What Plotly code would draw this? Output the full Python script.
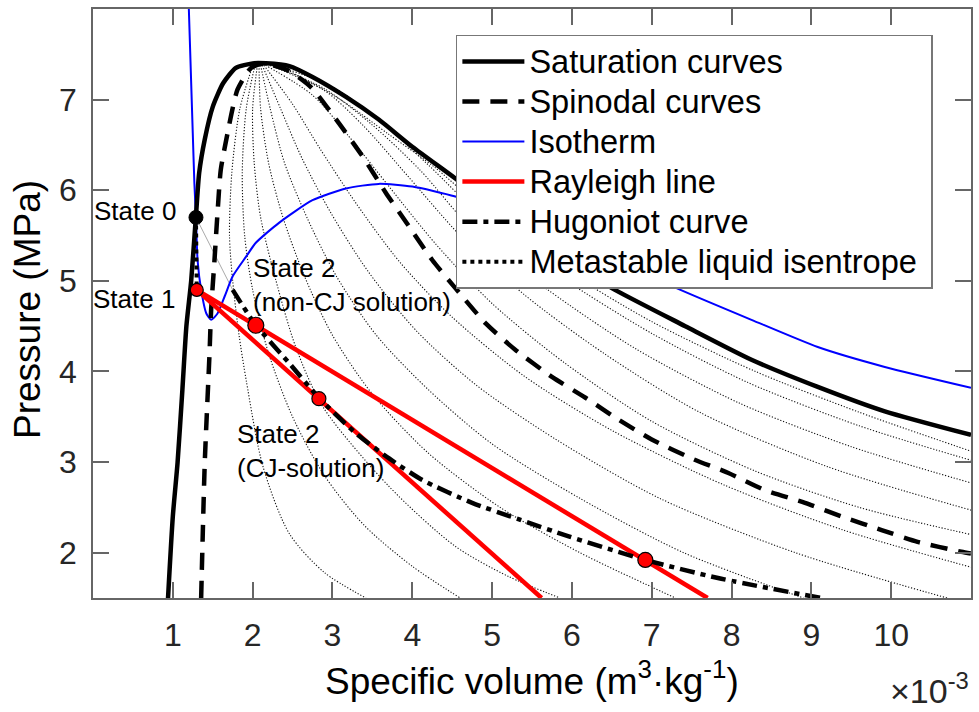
import plotly.graph_objects as go

# ---------------- data (specific volume in 1e-3 m^3/kg, pressure in MPa) ----------------
sat_v = [0.94, 1.00, 1.06, 1.12, 1.17, 1.23, 1.29, 1.33, 1.40, 1.50, 1.63, 1.79, 2.00, 2.17,
         2.46, 2.75, 3.17, 3.58, 4.00, 4.54, 5.00, 5.50, 6.00, 6.50, 7.42, 8.25, 9.08, 9.92, 11.0]
sat_p = [1.50, 2.40, 3.00, 3.80, 4.50, 5.00, 5.72, 6.19, 6.56, 6.92, 7.18, 7.35, 7.40, 7.40,
         7.37, 7.25, 7.03, 6.78, 6.48, 6.13, 5.82, 5.50, 5.20, 4.92, 4.50, 4.13, 3.83, 3.56, 3.30]

spin_v = [1.355, 1.40, 1.46, 1.48, 1.52, 1.56, 1.60, 1.67, 1.81, 1.98, 2.15, 2.45, 2.74, 3.08,
          3.38, 3.67, 3.96, 4.25, 4.54, 4.92, 5.29, 5.75, 6.17, 6.58, 7.00, 7.50, 7.96, 8.42,
          8.92, 9.38, 9.88, 10.33, 10.88, 11.0]
spin_p = [1.50, 2.99, 4.20, 4.68, 5.20, 5.75, 6.22, 6.56, 7.11, 7.35, 7.40, 7.32, 7.13, 6.74,
          6.37, 5.97, 5.60, 5.23, 4.92, 4.53, 4.24, 3.94, 3.71, 3.47, 3.25, 3.04, 2.88, 2.69,
          2.55, 2.40, 2.25, 2.12, 2.01, 1.99]

iso_v = [1.19, 1.25, 1.27, 1.29, 1.31, 1.355, 1.42, 1.48, 1.56, 1.65, 1.75, 1.92, 2.04, 2.33,
         2.75, 3.17, 3.58, 4.00, 4.54, 5.50, 6.50, 7.31, 8.25, 9.08, 9.92, 11.0]
iso_p = [8.30, 6.63, 6.08, 5.70, 5.23, 4.90, 4.64, 4.57, 4.64, 4.83, 5.05, 5.27, 5.42, 5.64,
         5.89, 6.02, 6.07, 6.04, 5.93, 5.62, 5.25, 4.92, 4.57, 4.27, 4.05, 3.82]

hug_v = [1.75, 1.96, 2.04, 2.46, 2.83, 3.29, 3.71, 4.13, 4.75, 5.33, 5.96, 6.92, 7.83, 9.12]
hug_p = [4.90, 4.61, 4.51, 4.09, 3.71, 3.32, 3.04, 2.80, 2.55, 2.37, 2.18, 1.92, 1.72, 1.50]

ray_noncj_v = [1.30, 7.70]
ray_noncj_p = [4.90, 1.50]
ray_cj_v = [1.30, 5.62]
ray_cj_p = [4.90, 1.50]

meta_v = [1.29, 1.295, 1.30]
meta_p = [5.70, 5.30, 4.90]

link_v = [1.29, 1.75]
link_p = [5.70, 4.90]

state0_v, state0_p = [1.29], [5.70]
red_pts_v = [1.30, 2.04, 2.83, 6.92]
red_pts_p = [4.90, 4.51, 3.70, 1.92]

# thin dotted isentropes fanning out of the critical region
ise_A_v = [2.00, 1.84, 1.74, 1.71, 1.75, 1.83, 1.92, 2.13, 2.46, 2.90, 3.42]
ise_A_p = [7.37, 6.90, 6.20, 5.50, 5.00, 4.40, 3.90, 2.95, 2.21, 1.78, 1.50]
ise_B_v = [2.03, 1.92, 1.87, 1.90, 2.00, 2.20, 2.50, 2.90, 3.40, 4.00, 4.60]
ise_B_p = [7.38, 6.90, 6.20, 5.50, 4.90, 4.20, 3.50, 2.85, 2.30, 1.85, 1.50]
ise_C_v = [2.06, 2.00, 2.02, 2.10, 2.29, 2.54, 2.88, 3.71, 4.54, 5.20, 5.85]
ise_C_p = [7.38, 6.90, 6.30, 5.70, 5.01, 4.27, 3.61, 2.73, 2.07, 1.74, 1.50]
ise_D_v = [2.08, 2.10, 2.20, 2.38, 2.65, 3.00, 3.50, 4.20, 5.10, 6.10, 7.30]
ise_D_p = [7.38, 6.90, 6.30, 5.70, 5.05, 4.40, 3.75, 3.10, 2.50, 2.00, 1.50]
ise_E_v = [2.10, 2.22, 2.40, 2.68, 3.05, 3.55, 4.20, 5.00, 6.10, 7.40, 8.90]
ise_E_p = [7.38, 6.90, 6.30, 5.70, 5.05, 4.40, 3.80, 3.20, 2.60, 2.00, 1.50]
ise_F_v = [2.12, 2.35, 2.62, 2.98, 3.45, 4.05, 4.80, 5.80, 7.10, 8.80, 10.7]
ise_F_p = [7.38, 6.90, 6.35, 5.75, 5.10, 4.45, 3.85, 3.25, 2.60, 2.00, 1.50]
ise_G_v = [2.14, 2.50, 2.85, 3.30, 3.85, 4.50, 5.40, 6.50, 7.90, 9.40, 11.0]
ise_G_p = [7.38, 6.95, 6.45, 5.85, 5.20, 4.60, 3.95, 3.35, 2.75, 2.25, 1.84]
ise_H_v = [2.16, 2.75, 3.20, 3.70, 4.30, 5.00, 5.90, 7.00, 8.30, 9.60, 11.0]
ise_H_p = [7.38, 7.05, 6.60, 6.05, 5.40, 4.75, 4.10, 3.45, 2.90, 2.50, 2.20]
ise_I_v = [2.18, 2.90, 3.40, 3.95, 4.60, 5.40, 6.40, 7.60, 9.20, 11.0]
ise_I_p = [7.39, 7.10, 6.70, 6.15, 5.50, 4.85, 4.20, 3.55, 2.95, 2.47]
ise_J_v = [2.20, 2.90, 3.50, 4.10, 4.80, 5.70, 6.80, 8.10, 9.50, 11.0]
ise_J_p = [7.39, 7.12, 6.72, 6.22, 5.52, 4.90, 4.25, 3.65, 3.17, 2.77]
ise_K_v = [2.25, 3.00, 3.60, 4.20, 5.00, 5.90, 7.00, 8.20, 9.60, 11.0]
ise_K_p = [7.39, 7.14, 6.76, 6.28, 5.60, 5.02, 4.42, 3.88, 3.40, 3.02]
ise_L_v = [2.30, 3.10, 3.70, 4.30, 5.00, 5.90, 7.00, 8.30, 9.60, 11.0]
ise_L_p = [7.39, 7.00, 6.62, 6.24, 5.70, 5.13, 4.55, 4.00, 3.55, 3.12]

isentropes = [(ise_A_v, ise_A_p), (ise_B_v, ise_B_p), (ise_C_v, ise_C_p), (ise_D_v, ise_D_p),
              (ise_E_v, ise_E_p), (ise_F_v, ise_F_p), (ise_G_v, ise_G_p), (ise_H_v, ise_H_p),
              (ise_I_v, ise_I_p), (ise_J_v, ise_J_p), (ise_K_v, ise_K_p), (ise_L_v, ise_L_p)]

x_ticks = [1, 2, 3, 4, 5, 6, 7, 8, 9, 10]
y_ticks = [2, 3, 4, 5, 6, 7]

legend_names = ["Saturation curves", "Spinodal curves", "Isotherm", "Rayleigh line",
                "Hugoniot curve", "Metastable liquid isentrope"]

# ---------------- figure ----------------
FONT = "Liberation Sans, Arial, Helvetica, sans-serif"
fig = go.Figure()


def leg(i):
    name = legend_names[i]
    if i == 5:
        name += "&nbsp;"
    return '<span style="font-size:32.6px">' + name + '</span>'


for v, p in isentropes:
    fig.add_trace(go.Scatter(x=v, y=p, mode="lines", showlegend=False, hoverinfo="skip",
                             line=dict(color="#111111", width=1.1, dash="1.2px,1.8px", shape="spline", smoothing=0.8)))

fig.add_trace(go.Scatter(x=link_v, y=link_p, mode="lines", showlegend=False,
                         line=dict(color="#aaaaaa", width=1)))

fig.add_trace(go.Scatter(x=iso_v, y=iso_p, mode="lines", name=leg(2), legendrank=3,
                         line=dict(color="#0000ff", width=2, shape="spline", smoothing=0.6)))

fig.add_trace(go.Scatter(x=spin_v, y=spin_p, mode="lines", name=leg(1), legendrank=2,
                         line=dict(color="black", width=4.5, dash="17px,11px", shape="spline", smoothing=0.6)))

fig.add_trace(go.Scatter(x=sat_v, y=sat_p, mode="lines", name=leg(0), legendrank=1,
                         line=dict(color="black", width=4.5, shape="spline", smoothing=0.6)))

fig.add_trace(go.Scatter(x=ray_noncj_v, y=ray_noncj_p, mode="lines", name=leg(3), legendrank=4,
                         line=dict(color="#ff0000", width=4.5)))
fig.add_trace(go.Scatter(x=ray_cj_v, y=ray_cj_p, mode="lines", showlegend=False,
                         line=dict(color="#ff0000", width=4.5)))

fig.add_trace(go.Scatter(x=hug_v, y=hug_p, mode="lines", name=leg(4), legendrank=5,
                         line=dict(color="black", width=4.5, dash="15px,6px,5px,6px", shape="spline", smoothing=0.6)))

fig.add_trace(go.Scatter(x=meta_v, y=meta_p, mode="lines", name=leg(5), legendrank=6,
                         line=dict(color="black", width=4, dash="4px,4px")))

fig.add_trace(go.Scatter(x=state0_v, y=state0_p, mode="markers", showlegend=False,
                         marker=dict(color="black", size=14, opacity=1, line=dict(color="black", width=1))))
fig.add_trace(go.Scatter(x=red_pts_v, y=red_pts_p, mode="markers", showlegend=False,
                         marker=dict(color="#ff0000", size=[13, 16, 14, 15], opacity=1,
                                     line=dict(color="black", width=1.2))))

ann_font = dict(family=FONT, size=26, color="black")
annotations = [
    dict(x=1.29, y=5.70, text="State 0", xanchor="right", yanchor="middle", xshift=-18, yshift=6, font=ann_font),
    dict(x=1.30, y=4.90, text="State 1", xanchor="right", yanchor="middle", xshift=-20, yshift=-9, font=ann_font),
    dict(x=1.98, y=5.33, text="State 2<br>(non-CJ solution)", xanchor="left", yanchor="top", align="left", font=ann_font),
    dict(x=1.78, y=3.50, text="State 2<br>(CJ-solution)", xanchor="left", yanchor="top", align="left", font=ann_font),
    dict(xref="paper", yref="paper", x=0.5, y=-0.094, text="Specific volume (m<sup>3</sup>·kg<sup>-1</sup>)",
         xanchor="center", yanchor="top", font=dict(family=FONT, size=37, color="black")),
    dict(xref="paper", yref="paper", x=-0.074, y=0.489, text="Pressure (MPa)", textangle=-90,
         xanchor="center", yanchor="middle", font=dict(family=FONT, size=37, color="black")),
    dict(xref="paper", yref="paper", x=1.0, y=-0.113, text="×10<sup>-3</sup>",
         xanchor="right", yanchor="top", font=dict(family=FONT, size=34, color="#262626")),
]
for a in annotations:
    a.setdefault("xref", "x")
    a.setdefault("yref", "y")
    a["showarrow"] = False

axis_common = dict(ticks="inside", ticklen=16, tickwidth=1.5, tickcolor="#666666",
                   showline=True, linecolor="#666666", linewidth=1.5, mirror="ticks",
                   showgrid=False, zeroline=False,
                   tickfont=dict(family=FONT, size=32, color="#262626"))

fig.update_layout(
    width=979, height=712,
    margin=dict(l=93, r=6, t=9, b=114),
    paper_bgcolor="white", plot_bgcolor="white",
    font=dict(family=FONT, color="#262626"),
    xaxis=dict(range=[0, 11], tickvals=x_ticks, ticklabelstandoff=8, **axis_common),
    yaxis=dict(range=[1.5, 8], tickvals=y_ticks, ticklabelstandoff=8, **axis_common),
    legend=dict(x=0.4133, y=0.956, xanchor="left", yanchor="top", bgcolor="white",
                bordercolor="#777777", borderwidth=1.5, font=dict(family=FONT, size=28.5, color="black"),
                itemwidth=62, tracegroupgap=0),
    showlegend=True,
    annotations=annotations,
)

fig.write_html("out.html")
